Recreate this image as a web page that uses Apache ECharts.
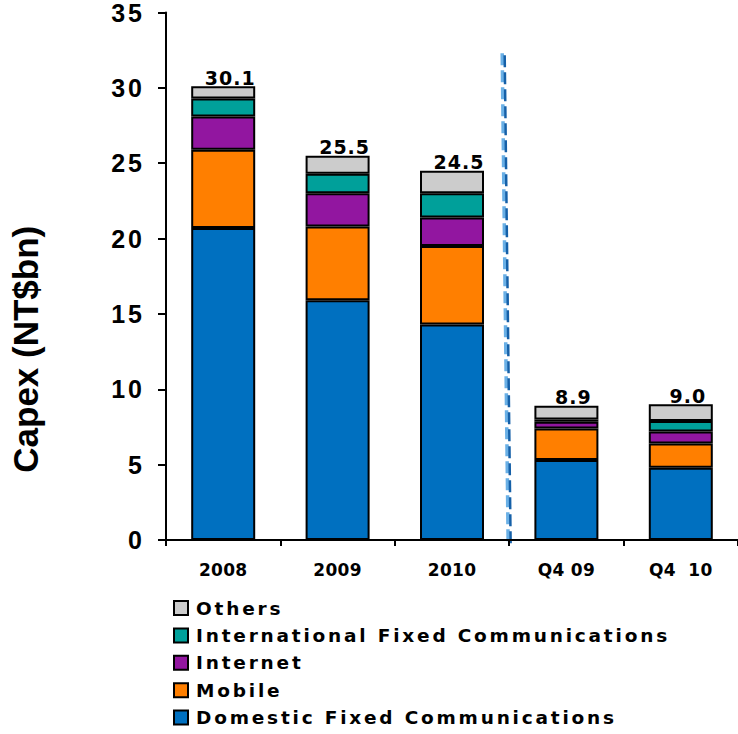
<!DOCTYPE html>
<html>
<head>
<meta charset="utf-8">
<script src="https://cdn.jsdelivr.net/npm/echarts@6/dist/echarts.min.js"></script>
<style>
  html, body { margin: 0; padding: 0; background: #fff; }
  #chart { width: 738px; height: 734px; }
  #chart text { white-space: pre; }
</style>
</head>
<body>
<div id="chart"></div>
<script>
// Capex breakdown by business segment (NT$bn)
const categories = ['2008', '2009', '2010', 'Q4 09', 'Q4  10'];
const domesticFixed = [20.7, 15.9, 14.3, 5.3, 4.8];
const mobile = [5.2, 4.9, 5.2, 2.1, 1.6];
const internet = [2.2, 2.2, 1.9, 0.45, 0.8];
const intlFixed = [1.2, 1.3, 1.6, 0.15, 0.7];
const others = [0.8, 1.2, 1.5, 0.9, 1.1];
const totals = [30.1, 25.5, 24.5, 8.9, 9.0];
const yTicks = [0, 5, 10, 15, 20, 25, 30, 35];

const FONT = 'Liberation Sans, Arial, sans-serif';
const WIDE_FONT = 'DejaVu Sans, Verdana, sans-serif';

const seriesDefs = [
  { name: 'Domestic Fixed Communications', data: domesticFixed, color: '#0070C0' },
  { name: 'Mobile', data: mobile, color: '#FF7F00' },
  { name: 'Internet', data: internet, color: '#9216A0' },
  { name: 'International Fixed Communications', data: intlFixed, color: '#00A09A' },
  { name: 'Others', data: others, color: '#CCCCCC' }
];
const legendOrder = seriesDefs.map(s => s.name).reverse();
const totalLabels = totals.map(v => v.toFixed(1));

const chart = echarts.init(document.getElementById('chart'), null, { renderer: 'svg' });

const series = seriesDefs.map((s, i) => ({
  name: s.name,
  type: 'bar',
  stack: 'capex',
  barWidth: 64,
  data: s.data,
  itemStyle: { color: s.color, borderColor: '#000', borderWidth: 2 },
  label: i === seriesDefs.length - 1 ? {
    show: true,
    position: 'top',
    distance: 5,
    offset: [7, 6],
    formatter: p => totalLabels[p.dataIndex],
    fontFamily: WIDE_FONT,
    fontWeight: 'bold',
    fontSize: 19,
    color: '#000'
  } : { show: false }
}));

chart.setOption({
  animation: false,
  backgroundColor: '#fff',
  grid: { left: 163, right: -2, top: 12, bottom: 194, containLabel: false },
  xAxis: {
    type: 'category',
    data: categories,
    axisLine: { lineStyle: { color: '#000', width: 2 } },
    axisTick: { show: true, length: 6, lineStyle: { color: '#000', width: 2 } },
    axisLabel: {
      margin: 21,
      fontFamily: WIDE_FONT,
      fontWeight: 'bold',
      fontSize: 17,
      color: '#000'
    }
  },
  yAxis: {
    type: 'value',
    min: yTicks[0],
    max: yTicks[yTicks.length - 1],
    interval: 5,
    name: 'Capex (NT$bn)',
    nameLocation: 'middle',
    nameGap: 123,
    nameTextStyle: {
      fontFamily: FONT, fontWeight: 'bold', fontSize: 35, color: '#000',
      padding: [0, 146, 0, 0]
    },
    splitLine: { show: false },
    axisLine: { show: true, lineStyle: { color: '#000', width: 2 } },
    axisTick: { show: true, length: 8, lineStyle: { color: '#000', width: 2 } },
    axisLabel: {
      margin: 21,
      fontFamily: FONT,
      fontWeight: 'bold',
      fontSize: 25,
      color: '#000'
    }
  },
  legend: {
    orient: 'vertical',
    left: 168,
    top: 593,
    height: 200,
    itemWidth: 14,
    itemHeight: 14,
    itemGap: 7.4,
    icon: 'rect',
    data: legendOrder,
    textStyle: { fontFamily: WIDE_FONT, fontWeight: 'bold', fontSize: 18.5, lineHeight: 20, color: '#000', padding: [0, 0, 0, 3] }
  },
  series: series
});

// Divider between annual and quarterly figures, placed on the category boundary
function drawDivider() {
  const left = chart.convertToPixel({ xAxisIndex: 0 }, categories[2]);
  const right = chart.convertToPixel({ xAxisIndex: 0 }, categories[3]);
  const xb = (left + right) / 2;
  const yTop = chart.convertToPixel({ yAxisIndex: 0 }, 32.3);
  const yBot = chart.convertToPixel({ yAxisIndex: 0 }, -0.4);
  chart.setOption({
    graphic: [
      {
        type: 'line', silent: true,
        shape: { x1: xb - 7, y1: yTop, x2: xb - 1, y2: yBot },
        style: { stroke: '#6AB0E6', lineWidth: 3.5, lineDash: [12, 5] }
      },
      {
        type: 'line', silent: true,
        shape: { x1: xb - 4.5, y1: yTop + 2, x2: xb + 1.5, y2: yBot + 2 },
        style: { stroke: '#1560A8', lineWidth: 2.5, lineDash: [12, 5] }
      }
    ]
  });
}
drawDivider();

// Letter spacing per text group (the SVG renderer lets each text node carry its own)
const tickLabels = yTicks.map(String);
function spacingFor(t) {
  if (legendOrder.includes(t)) return 2.8;
  if (tickLabels.includes(t)) return 3;
  if (categories.includes(t)) return 0.3;
  if (totalLabels.includes(t)) return 1;
  return 0;
}
function applySpacing() {
  document.querySelectorAll('#chart text').forEach(el => {
    const s = spacingFor(el.textContent);
    if (s) el.setAttribute('letter-spacing', s);
  });
}
chart.getZr().flush();
applySpacing();
chart.on('finished', applySpacing);
</script>
</body>
</html>
